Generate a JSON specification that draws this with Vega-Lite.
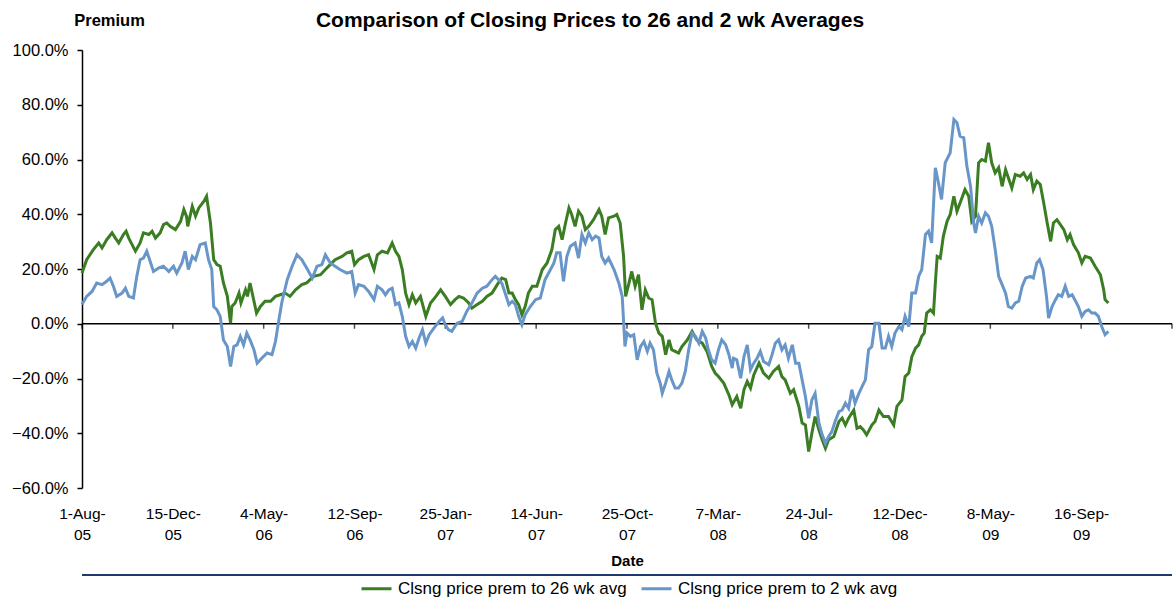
{
"$schema": "https://vega.github.io/schema/vega-lite/v6.json",
"width": 1090,
"height": 438,
"autosize": {"type": "none"},
"padding": {"left": 82, "top": 50, "right": 2, "bottom": 115},
"background": "white",
"config": {"view": {"stroke": null}, "font": "Liberation Sans", "axis": {"grid": false}},
"title": {"text": "Comparison of Closing Prices to 26 and 2 wk Averages", "font": "Liberation Sans", "fontSize": 21, "fontWeight": "bold", "color": "black", "anchor": "middle", "frame": "group", "dx": -37, "dy": 19, "offset": 0},
"datasets": {
"ticks": [{"date":"2005-08-01"},{"date":"2005-12-15"},{"date":"2006-05-04"},{"date":"2006-09-12"},{"date":"2007-01-25"},{"date":"2007-06-14"},{"date":"2007-10-25"},{"date":"2008-03-07"},{"date":"2008-07-24"},{"date":"2008-12-12"},{"date":"2009-05-08"},{"date":"2009-09-16"},{"date":"2010-01-31"}],
"wk26": [
{"date":"2005-08-01","premium":0.185},{"date":"2005-08-08","premium":0.234},{"date":"2005-08-18","premium":0.271},{"date":"2005-08-26","premium":0.295},{"date":"2005-08-31","premium":0.277},{"date":"2005-09-07","premium":0.307},{"date":"2005-09-15","premium":0.332},{"date":"2005-09-20","premium":0.313},{"date":"2005-09-25","premium":0.295},{"date":"2005-10-02","premium":0.326},{"date":"2005-10-06","premium":0.338},{"date":"2005-10-10","premium":0.313},{"date":"2005-10-15","premium":0.289},{"date":"2005-10-20","premium":0.265},{"date":"2005-10-27","premium":0.295},{"date":"2005-11-01","premium":0.332},{"date":"2005-11-09","premium":0.326},{"date":"2005-11-14","premium":0.338},{"date":"2005-11-19","premium":0.313},{"date":"2005-11-26","premium":0.332},{"date":"2005-12-01","premium":0.362},{"date":"2005-12-06","premium":0.368},{"date":"2005-12-11","premium":0.356},{"date":"2005-12-19","premium":0.344},{"date":"2005-12-27","premium":0.374},
{"date":"2006-01-01","premium":0.417},{"date":"2006-01-05","premium":0.393},{"date":"2006-01-07","premium":0.356},{"date":"2006-01-14","premium":0.429},{"date":"2006-01-19","premium":0.393},{"date":"2006-01-24","premium":0.423},{"date":"2006-02-01","premium":0.448},{"date":"2006-02-05","premium":0.466},{"date":"2006-02-08","premium":0.417},{"date":"2006-02-11","premium":0.368},{"date":"2006-02-16","premium":0.234},{"date":"2006-02-21","premium":0.216},{"date":"2006-02-26","premium":0.210},{"date":"2006-03-03","premium":0.149},{"date":"2006-03-09","premium":0.100},{"date":"2006-03-14","premium":0.002},{"date":"2006-03-16","premium":0.063},{"date":"2006-03-21","premium":0.076},{"date":"2006-03-27","premium":0.112},{"date":"2006-03-30","premium":0.076},{"date":"2006-04-06","premium":0.124},{"date":"2006-04-09","premium":0.100},{"date":"2006-04-13","premium":0.149},{"date":"2006-04-18","premium":0.094},{"date":"2006-04-23","premium":0.039},{"date":"2006-04-29","premium":0.063},
{"date":"2006-05-06","premium":0.082},{"date":"2006-05-14","premium":0.082},{"date":"2006-05-21","premium":0.100},{"date":"2006-05-28","premium":0.106},{"date":"2006-06-04","premium":0.112},{"date":"2006-06-11","premium":0.100},{"date":"2006-06-19","premium":0.124},{"date":"2006-06-28","premium":0.143},{"date":"2006-07-05","premium":0.149},{"date":"2006-07-15","premium":0.173},{"date":"2006-07-25","premium":0.179},{"date":"2006-08-01","premium":0.198},{"date":"2006-08-08","premium":0.216},{"date":"2006-08-15","premium":0.234},{"date":"2006-08-25","premium":0.246},{"date":"2006-09-01","premium":0.259},{"date":"2006-09-08","premium":0.265},{"date":"2006-09-12","premium":0.216},{"date":"2006-09-18","premium":0.234},{"date":"2006-09-26","premium":0.246},{"date":"2006-10-03","premium":0.252},{"date":"2006-10-11","premium":0.198},{"date":"2006-10-16","premium":0.252},{"date":"2006-10-23","premium":0.265},{"date":"2006-10-31","premium":0.259},{"date":"2006-11-07","premium":0.295},{"date":"2006-11-12","premium":0.265},{"date":"2006-11-17","premium":0.246},{"date":"2006-11-22","premium":0.198},{"date":"2006-11-27","premium":0.112},{"date":"2006-12-02","premium":0.070},{"date":"2006-12-07","premium":0.106},{"date":"2006-12-12","premium":0.076},{"date":"2006-12-19","premium":0.100},{"date":"2006-12-27","premium":0.027},
{"date":"2007-01-03","premium":0.076},{"date":"2007-01-11","premium":0.100},{"date":"2007-01-18","premium":0.124},{"date":"2007-01-25","premium":0.100},{"date":"2007-02-02","premium":0.070},{"date":"2007-02-09","premium":0.088},{"date":"2007-02-15","premium":0.100},{"date":"2007-02-22","premium":0.094},{"date":"2007-03-02","premium":0.076},{"date":"2007-03-07","premium":0.057},{"date":"2007-03-15","premium":0.070},{"date":"2007-03-23","premium":0.082},{"date":"2007-03-30","premium":0.100},{"date":"2007-04-07","premium":0.112},{"date":"2007-04-15","premium":0.143},{"date":"2007-04-22","premium":0.167},{"date":"2007-04-28","premium":0.161},{"date":"2007-05-03","premium":0.112},{"date":"2007-05-08","premium":0.112},{"date":"2007-05-13","premium":0.088},{"date":"2007-05-18","premium":0.070},{"date":"2007-05-23","premium":0.033},{"date":"2007-05-28","premium":0.063},{"date":"2007-06-02","premium":0.112},{"date":"2007-06-08","premium":0.137},{"date":"2007-06-15","premium":0.137},{"date":"2007-06-23","premium":0.198},{"date":"2007-06-30","premium":0.222},{"date":"2007-07-07","premium":0.271},{"date":"2007-07-12","premium":0.344},{"date":"2007-07-17","premium":0.356},{"date":"2007-07-22","premium":0.307},{"date":"2007-07-27","premium":0.368},{"date":"2007-08-01","premium":0.423},{"date":"2007-08-05","premium":0.399},{"date":"2007-08-10","premium":0.356},{"date":"2007-08-15","premium":0.411},{"date":"2007-08-20","premium":0.393},{"date":"2007-08-25","premium":0.344},{"date":"2007-08-30","premium":0.356},{"date":"2007-09-06","premium":0.380},{"date":"2007-09-14","premium":0.417},{"date":"2007-09-18","premium":0.393},{"date":"2007-09-23","premium":0.326},{"date":"2007-09-28","premium":0.387},{"date":"2007-10-06","premium":0.393},{"date":"2007-10-10","premium":0.399},{"date":"2007-10-15","premium":0.368},{"date":"2007-10-20","premium":0.246},{"date":"2007-10-23","premium":0.100},{"date":"2007-10-28","premium":0.149},{"date":"2007-11-01","premium":0.191},{"date":"2007-11-06","premium":0.137},{"date":"2007-11-11","premium":0.179},{"date":"2007-11-16","premium":0.051},{"date":"2007-11-21","premium":0.124},{"date":"2007-11-26","premium":0.094},{"date":"2007-12-01","premium":0.088},{"date":"2007-12-06","premium":0.002},{"date":"2007-12-11","premium":-0.034},{"date":"2007-12-16","premium":-0.046},{"date":"2007-12-21","premium":-0.113},{"date":"2007-12-26","premium":-0.059},{"date":"2007-12-30","premium":-0.095},
{"date":"2008-01-04","premium":-0.101},{"date":"2008-01-09","premium":-0.107},{"date":"2008-01-14","premium":-0.083},{"date":"2008-01-22","premium":-0.059},{"date":"2008-01-29","premium":-0.028},{"date":"2008-02-05","premium":-0.059},{"date":"2008-02-13","premium":-0.071},{"date":"2008-02-20","premium":-0.101},{"date":"2008-02-27","premium":-0.156},{"date":"2008-03-03","premium":-0.180},{"date":"2008-03-08","premium":-0.193},{"date":"2008-03-16","premium":-0.217},{"date":"2008-03-24","premium":-0.260},{"date":"2008-03-29","premium":-0.296},{"date":"2008-04-05","premium":-0.266},{"date":"2008-04-11","premium":-0.309},{"date":"2008-04-16","premium":-0.241},{"date":"2008-04-21","premium":-0.211},{"date":"2008-04-26","premium":-0.235},{"date":"2008-05-01","premium":-0.187},{"date":"2008-05-09","premium":-0.144},{"date":"2008-05-16","premium":-0.180},{"date":"2008-05-24","premium":-0.199},{"date":"2008-05-31","premium":-0.174},{"date":"2008-06-08","premium":-0.156},{"date":"2008-06-13","premium":-0.193},{"date":"2008-06-18","premium":-0.205},{"date":"2008-06-26","premium":-0.254},{"date":"2008-07-01","premium":-0.241},{"date":"2008-07-09","premium":-0.302},{"date":"2008-07-14","premium":-0.363},{"date":"2008-07-19","premium":-0.370},{"date":"2008-07-24","premium":-0.467},{"date":"2008-07-29","premium":-0.400},{"date":"2008-08-03","premium":-0.339},{"date":"2008-08-09","premium":-0.388},{"date":"2008-08-14","premium":-0.424},{"date":"2008-08-19","premium":-0.455},{"date":"2008-08-24","premium":-0.424},{"date":"2008-09-01","premium":-0.412},{"date":"2008-09-09","premium":-0.357},{"date":"2008-09-14","premium":-0.345},{"date":"2008-09-19","premium":-0.370},{"date":"2008-09-24","premium":-0.345},{"date":"2008-10-02","premium":-0.315},{"date":"2008-10-07","premium":-0.382},{"date":"2008-10-12","premium":-0.376},{"date":"2008-10-17","premium":-0.388},{"date":"2008-10-22","premium":-0.406},{"date":"2008-10-30","premium":-0.370},{"date":"2008-11-04","premium":-0.357},{"date":"2008-11-10","premium":-0.315},{"date":"2008-11-17","premium":-0.339},{"date":"2008-11-25","premium":-0.339},{"date":"2008-12-03","premium":-0.370},{"date":"2008-12-08","premium":-0.302},{"date":"2008-12-16","premium":-0.278},{"date":"2008-12-21","premium":-0.193},{"date":"2008-12-27","premium":-0.180},
{"date":"2009-01-01","premium":-0.120},{"date":"2009-01-07","premium":-0.089},{"date":"2009-01-12","premium":-0.077},{"date":"2009-01-17","premium":-0.046},{"date":"2009-01-21","premium":-0.034},{"date":"2009-01-25","premium":0.039},{"date":"2009-01-31","premium":0.051},{"date":"2009-02-05","premium":0.039},{"date":"2009-02-08","premium":0.149},{"date":"2009-02-11","premium":0.246},{"date":"2009-02-16","premium":0.240},{"date":"2009-02-21","premium":0.320},{"date":"2009-02-27","premium":0.374},{"date":"2009-03-04","premium":0.399},{"date":"2009-03-10","premium":0.466},{"date":"2009-03-15","premium":0.411},{"date":"2009-03-20","premium":0.441},{"date":"2009-03-28","premium":0.490},{"date":"2009-04-03","premium":0.466},{"date":"2009-04-08","premium":0.374},{"date":"2009-04-14","premium":0.393},{"date":"2009-04-19","premium":0.588},{"date":"2009-04-24","premium":0.600},{"date":"2009-04-30","premium":0.594},{"date":"2009-05-05","premium":0.661},{"date":"2009-05-10","premium":0.588},{"date":"2009-05-15","premium":0.551},{"date":"2009-05-20","premium":0.570},{"date":"2009-05-25","premium":0.502},{"date":"2009-05-30","premium":0.563},{"date":"2009-06-03","premium":0.533},{"date":"2009-06-08","premium":0.496},{"date":"2009-06-13","premium":0.545},{"date":"2009-06-20","premium":0.539},{"date":"2009-06-25","premium":0.551},{"date":"2009-06-30","premium":0.527},{"date":"2009-07-05","premium":0.545},{"date":"2009-07-09","premium":0.490},{"date":"2009-07-14","premium":0.521},{"date":"2009-07-19","premium":0.509},{"date":"2009-07-24","premium":0.441},{"date":"2009-07-29","premium":0.368},{"date":"2009-08-03","premium":0.301},{"date":"2009-08-07","premium":0.368},{"date":"2009-08-12","premium":0.380},{"date":"2009-08-17","premium":0.362},{"date":"2009-08-22","premium":0.344},{"date":"2009-08-27","premium":0.307},{"date":"2009-08-31","premium":0.326},{"date":"2009-09-05","premium":0.289},{"date":"2009-09-12","premium":0.259},{"date":"2009-09-17","premium":0.222},{"date":"2009-09-22","premium":0.246},{"date":"2009-09-30","premium":0.240},{"date":"2009-10-07","premium":0.210},{"date":"2009-10-15","premium":0.179},{"date":"2009-10-20","premium":0.124},{"date":"2009-10-22","premium":0.088},{"date":"2009-10-27","premium":0.076}
],
"wk2": [
{"date":"2005-08-01","premium":0.070},{"date":"2005-08-08","premium":0.100},{"date":"2005-08-16","premium":0.118},{"date":"2005-08-23","premium":0.149},{"date":"2005-08-31","premium":0.143},{"date":"2005-09-07","premium":0.155},{"date":"2005-09-12","premium":0.167},{"date":"2005-09-17","premium":0.137},{"date":"2005-09-22","premium":0.100},{"date":"2005-09-30","premium":0.112},{"date":"2005-10-05","premium":0.130},{"date":"2005-10-10","premium":0.100},{"date":"2005-10-17","premium":0.094},{"date":"2005-10-22","premium":0.173},{"date":"2005-10-27","premium":0.234},{"date":"2005-11-01","premium":0.240},{"date":"2005-11-06","premium":0.265},{"date":"2005-11-11","premium":0.228},{"date":"2005-11-16","premium":0.191},{"date":"2005-11-24","premium":0.204},{"date":"2005-12-01","premium":0.210},{"date":"2005-12-09","premium":0.191},{"date":"2005-12-16","premium":0.210},{"date":"2005-12-21","premium":0.185},{"date":"2005-12-29","premium":0.222},
{"date":"2006-01-03","premium":0.265},{"date":"2006-01-08","premium":0.198},{"date":"2006-01-14","premium":0.246},{"date":"2006-01-19","premium":0.234},{"date":"2006-01-26","premium":0.289},{"date":"2006-02-03","premium":0.295},{"date":"2006-02-08","premium":0.234},{"date":"2006-02-13","premium":0.198},{"date":"2006-02-16","premium":0.063},{"date":"2006-02-21","premium":0.051},{"date":"2006-02-26","premium":0.027},{"date":"2006-03-03","premium":-0.059},{"date":"2006-03-09","premium":-0.083},{"date":"2006-03-14","premium":-0.156},{"date":"2006-03-19","premium":-0.083},{"date":"2006-03-24","premium":-0.077},{"date":"2006-03-29","premium":-0.046},{"date":"2006-04-03","premium":-0.077},{"date":"2006-04-08","premium":-0.034},{"date":"2006-04-13","premium":-0.059},{"date":"2006-04-19","premium":-0.095},{"date":"2006-04-24","premium":-0.144},{"date":"2006-05-01","premium":-0.126},{"date":"2006-05-09","premium":-0.107},{"date":"2006-05-16","premium":-0.113},{"date":"2006-05-21","premium":-0.065},{"date":"2006-05-26","premium":0.015},{"date":"2006-05-30","premium":0.076},{"date":"2006-06-07","premium":0.161},{"date":"2006-06-14","premium":0.210},{"date":"2006-06-21","premium":0.252},{"date":"2006-06-28","premium":0.234},{"date":"2006-07-05","premium":0.204},{"date":"2006-07-13","premium":0.167},{"date":"2006-07-20","premium":0.210},{"date":"2006-07-27","premium":0.216},{"date":"2006-08-01","premium":0.252},{"date":"2006-08-08","premium":0.222},{"date":"2006-08-15","premium":0.210},{"date":"2006-08-22","premium":0.198},{"date":"2006-09-01","premium":0.185},{"date":"2006-09-08","premium":0.191},{"date":"2006-09-13","premium":0.112},{"date":"2006-09-18","premium":0.143},{"date":"2006-09-26","premium":0.137},{"date":"2006-10-03","premium":0.118},{"date":"2006-10-11","premium":0.088},{"date":"2006-10-16","premium":0.137},{"date":"2006-10-23","premium":0.124},{"date":"2006-10-28","premium":0.106},{"date":"2006-11-02","premium":0.124},{"date":"2006-11-07","premium":0.130},{"date":"2006-11-12","premium":0.070},{"date":"2006-11-17","premium":0.076},{"date":"2006-11-22","premium":0.027},{"date":"2006-11-27","premium":-0.046},{"date":"2006-12-02","premium":-0.083},{"date":"2006-12-07","premium":-0.065},{"date":"2006-12-12","premium":-0.089},{"date":"2006-12-17","premium":-0.052},{"date":"2006-12-22","premium":-0.022},{"date":"2006-12-27","premium":-0.071},
{"date":"2007-01-01","premium":-0.040},{"date":"2007-01-08","premium":-0.016},{"date":"2007-01-16","premium":0.009},{"date":"2007-01-21","premium":0.021},{"date":"2007-01-25","premium":-0.004},{"date":"2007-01-30","premium":-0.022},{"date":"2007-02-04","premium":-0.028},{"date":"2007-02-12","premium":0.002},{"date":"2007-02-20","premium":0.009},{"date":"2007-02-27","premium":0.045},{"date":"2007-03-07","premium":0.076},{"date":"2007-03-15","premium":0.112},{"date":"2007-03-23","premium":0.130},{"date":"2007-03-30","premium":0.137},{"date":"2007-04-07","premium":0.161},{"date":"2007-04-12","premium":0.173},{"date":"2007-04-17","premium":0.161},{"date":"2007-04-22","premium":0.149},{"date":"2007-04-28","premium":0.106},{"date":"2007-05-03","premium":0.070},{"date":"2007-05-08","premium":0.082},{"date":"2007-05-13","premium":0.070},{"date":"2007-05-18","premium":0.027},{"date":"2007-05-23","premium":-0.004},{"date":"2007-05-28","premium":0.033},{"date":"2007-06-05","premium":0.063},{"date":"2007-06-13","premium":0.088},{"date":"2007-06-20","premium":0.094},{"date":"2007-06-27","premium":0.161},{"date":"2007-07-05","premium":0.198},{"date":"2007-07-10","premium":0.222},{"date":"2007-07-14","premium":0.259},{"date":"2007-07-19","premium":0.259},{"date":"2007-07-24","premium":0.155},{"date":"2007-07-29","premium":0.246},{"date":"2007-08-03","premium":0.283},{"date":"2007-08-10","premium":0.295},{"date":"2007-08-15","premium":0.240},{"date":"2007-08-20","premium":0.326},{"date":"2007-08-25","premium":0.295},{"date":"2007-08-30","premium":0.332},{"date":"2007-09-04","premium":0.307},{"date":"2007-09-09","premium":0.320},{"date":"2007-09-14","premium":0.313},{"date":"2007-09-18","premium":0.246},{"date":"2007-09-23","premium":0.222},{"date":"2007-09-28","premium":0.240},{"date":"2007-10-06","premium":0.198},{"date":"2007-10-13","premium":0.149},{"date":"2007-10-18","premium":0.100},{"date":"2007-10-22","premium":-0.083},{"date":"2007-10-25","premium":-0.034},{"date":"2007-10-30","premium":-0.046},{"date":"2007-11-04","premium":-0.040},{"date":"2007-11-09","premium":-0.132},{"date":"2007-11-14","premium":-0.083},{"date":"2007-11-19","premium":-0.065},{"date":"2007-11-24","premium":-0.101},{"date":"2007-11-28","premium":-0.071},{"date":"2007-12-03","premium":-0.095},{"date":"2007-12-08","premium":-0.180},{"date":"2007-12-13","premium":-0.217},{"date":"2007-12-16","premium":-0.254},{"date":"2007-12-21","premium":-0.217},{"date":"2007-12-26","premium":-0.174},{"date":"2007-12-30","premium":-0.205},
{"date":"2008-01-04","premium":-0.235},{"date":"2008-01-09","premium":-0.235},{"date":"2008-01-14","premium":-0.217},{"date":"2008-01-19","premium":-0.174},{"date":"2008-01-24","premium":-0.095},{"date":"2008-01-29","premium":-0.034},{"date":"2008-02-03","premium":-0.046},{"date":"2008-02-08","premium":-0.071},{"date":"2008-02-13","premium":-0.028},{"date":"2008-02-18","premium":-0.052},{"date":"2008-02-22","premium":-0.095},{"date":"2008-02-27","premium":-0.132},{"date":"2008-03-03","premium":-0.144},{"date":"2008-03-08","premium":-0.095},{"date":"2008-03-13","premium":-0.059},{"date":"2008-03-19","premium":-0.077},{"date":"2008-03-24","premium":-0.113},{"date":"2008-03-29","premium":-0.162},{"date":"2008-03-31","premium":-0.126},{"date":"2008-04-05","premium":-0.132},{"date":"2008-04-11","premium":-0.199},{"date":"2008-04-16","premium":-0.120},{"date":"2008-04-21","premium":-0.077},{"date":"2008-04-26","premium":-0.168},{"date":"2008-05-01","premium":-0.144},{"date":"2008-05-06","premium":-0.126},{"date":"2008-05-11","premium":-0.101},{"date":"2008-05-16","premium":-0.138},{"date":"2008-05-24","premium":-0.150},{"date":"2008-05-29","premium":-0.113},{"date":"2008-06-03","premium":-0.071},{"date":"2008-06-08","premium":-0.059},{"date":"2008-06-13","premium":-0.095},{"date":"2008-06-18","premium":-0.077},{"date":"2008-06-23","premium":-0.126},{"date":"2008-06-29","premium":-0.077},{"date":"2008-07-04","premium":-0.144},{"date":"2008-07-09","premium":-0.144},{"date":"2008-07-14","premium":-0.205},{"date":"2008-07-19","premium":-0.266},{"date":"2008-07-24","premium":-0.345},{"date":"2008-07-29","premium":-0.278},{"date":"2008-08-03","premium":-0.254},{"date":"2008-08-09","premium":-0.363},{"date":"2008-08-14","premium":-0.406},{"date":"2008-08-19","premium":-0.437},{"date":"2008-08-24","premium":-0.412},{"date":"2008-08-29","premium":-0.394},{"date":"2008-09-03","premium":-0.357},{"date":"2008-09-09","premium":-0.321},{"date":"2008-09-14","premium":-0.315},{"date":"2008-09-19","premium":-0.290},{"date":"2008-09-24","premium":-0.309},{"date":"2008-09-29","premium":-0.241},{"date":"2008-10-04","premium":-0.290},{"date":"2008-10-10","premium":-0.254},{"date":"2008-10-15","premium":-0.229},{"date":"2008-10-20","premium":-0.205},{"date":"2008-10-25","premium":-0.095},{"date":"2008-10-30","premium":-0.083},{"date":"2008-11-04","premium":0.002},{"date":"2008-11-10","premium":0.002},{"date":"2008-11-15","premium":-0.089},{"date":"2008-11-20","premium":-0.089},{"date":"2008-11-25","premium":-0.046},{"date":"2008-11-30","premium":-0.083},{"date":"2008-12-05","premium":-0.034},{"date":"2008-12-11","premium":-0.010},{"date":"2008-12-16","premium":-0.022},{"date":"2008-12-21","premium":0.027},{"date":"2008-12-27","premium":-0.010},
{"date":"2009-01-01","premium":0.112},{"date":"2009-01-07","premium":0.112},{"date":"2009-01-12","premium":0.173},{"date":"2009-01-17","premium":0.198},{"date":"2009-01-23","premium":0.326},{"date":"2009-01-28","premium":0.338},{"date":"2009-02-02","premium":0.295},{"date":"2009-02-08","premium":0.570},{"date":"2009-02-13","premium":0.515},{"date":"2009-02-18","premium":0.454},{"date":"2009-02-24","premium":0.588},{"date":"2009-03-04","premium":0.624},{"date":"2009-03-10","premium":0.746},{"date":"2009-03-15","premium":0.734},{"date":"2009-03-20","premium":0.685},{"date":"2009-03-26","premium":0.679},{"date":"2009-03-31","premium":0.576},{"date":"2009-04-06","premium":0.502},{"date":"2009-04-11","premium":0.368},{"date":"2009-04-14","premium":0.332},{"date":"2009-04-19","premium":0.393},{"date":"2009-04-24","premium":0.368},{"date":"2009-04-30","premium":0.405},{"date":"2009-05-05","premium":0.393},{"date":"2009-05-10","premium":0.356},{"date":"2009-05-15","premium":0.271},{"date":"2009-05-20","premium":0.173},{"date":"2009-05-25","premium":0.143},{"date":"2009-05-30","premium":0.112},{"date":"2009-06-03","premium":0.063},{"date":"2009-06-08","premium":0.057},{"date":"2009-06-13","premium":0.076},{"date":"2009-06-18","premium":0.082},{"date":"2009-06-23","premium":0.137},{"date":"2009-06-28","premium":0.167},{"date":"2009-07-05","premium":0.173},{"date":"2009-07-09","premium":0.167},{"date":"2009-07-14","premium":0.222},{"date":"2009-07-18","premium":0.234},{"date":"2009-07-23","premium":0.198},{"date":"2009-07-28","premium":0.100},{"date":"2009-07-31","premium":0.021},{"date":"2009-08-05","premium":0.063},{"date":"2009-08-10","premium":0.088},{"date":"2009-08-14","premium":0.106},{"date":"2009-08-19","premium":0.100},{"date":"2009-08-24","premium":0.137},{"date":"2009-08-29","premium":0.100},{"date":"2009-09-03","premium":0.106},{"date":"2009-09-08","premium":0.082},{"date":"2009-09-12","premium":0.063},{"date":"2009-09-17","premium":0.027},{"date":"2009-09-22","premium":0.045},{"date":"2009-09-27","premium":0.051},{"date":"2009-10-02","premium":0.039},{"date":"2009-10-07","premium":0.039},{"date":"2009-10-12","premium":0.027},{"date":"2009-10-17","premium":-0.010},{"date":"2009-10-22","premium":-0.040},{"date":"2009-10-27","premium":-0.028}
]
},
"layer": [
{
"data": {"values": [{}]},
"mark": {"type": "rule", "color": "black", "strokeWidth": 1.5},
"encoding": {"y": {"datum": 0, "type": "quantitative"}}
},
{
"data": {"name": "ticks"},
"mark": {"type": "tick", "orient": "vertical", "size": 5, "thickness": 1.5, "color": "black", "yOffset": 2.5},
"encoding": {"x": {"field": "date", "type": "temporal"}, "y": {"datum": 0, "type": "quantitative"}}
},
{
"data": {"name": "wk26"},
"mark": {"type": "line", "strokeWidth": 3},
"encoding": {
"x": {"field": "date", "type": "temporal",
"scale": {"type": "utc", "nice": false,
"domainRaw": {"expr": "[1122854400000, 1134604800000, 1146700800000, 1158019200000, 1169683200000, 1181779200000, 1193270400000, 1204848000000, 1216857600000, 1229040000000, 1241740800000, 1253059200000, 1264896000000]"},
"range": [0, 90.833, 181.667, 272.5, 363.333, 454.167, 545, 635.833, 726.667, 817.5, 908.333, 999.167, 1090]},
"axis": {"orient": "bottom",
"values": [{"year":2005,"month":8,"date":1,"utc":true},{"year":2005,"month":12,"date":15,"utc":true},{"year":2006,"month":5,"date":4,"utc":true},{"year":2006,"month":9,"date":12,"utc":true},{"year":2007,"month":1,"date":25,"utc":true},{"year":2007,"month":6,"date":14,"utc":true},{"year":2007,"month":10,"date":25,"utc":true},{"year":2008,"month":3,"date":7,"utc":true},{"year":2008,"month":7,"date":24,"utc":true},{"year":2008,"month":12,"date":12,"utc":true},{"year":2009,"month":5,"date":8,"utc":true},{"year":2009,"month":9,"date":16,"utc":true}],
"domain": false, "ticks": false, "tickSize": 0, "grid": false,
"labelExpr": "[utcFormat(datum.value, '%-d-%b-'), utcFormat(datum.value, '%y')]",
"labelFont": "Liberation Sans", "labelFontSize": 15.5, "labelColor": "black", "labelPadding": 18, "labelLineHeight": 21, "labelBaseline": "top", "labelAlign": "center", "labelFlush": false, "labelOverlap": false, "labelBound": false,
"title": "Date", "titleFont": "Liberation Sans", "titleFontSize": 15, "titleFontWeight": "bold", "titleColor": "black", "titleX": 545, "titleY": 72, "titleAlign": "center", "titleBaseline": "middle"}},
"y": {"field": "premium", "type": "quantitative",
"scale": {"domain": [-0.6, 1.0], "nice": false, "zero": false},
"axis": {"values": [-0.6, -0.4, -0.2, 0, 0.2, 0.4, 0.6, 0.8, 1.0], "format": ".1%", "grid": false,
"domain": true, "domainColor": "black", "domainWidth": 1.5, "ticks": true, "tickSize": 5, "tickWidth": 1.5, "tickColor": "black",
"labelFont": "Liberation Sans", "labelFontSize": 16.5, "labelColor": "black", "labelPadding": 9,
"title": "Premium", "titleFont": "Liberation Sans", "titleFontSize": 16.5, "titleFontWeight": "bold", "titleColor": "black", "titleAngle": 0, "titleX": 27, "titleY": -30, "titleAlign": "center", "titleBaseline": "middle"}},
"color": {"datum": "Clsng price prem to 26 wk avg", "type": "nominal",
"scale": {"domain": ["Clsng price prem to 26 wk avg", "Clsng price prem to 2 wk avg"], "range": ["#3b7d23", "#6896c8"]},
"legend": {"orient": "none", "legendX": 278, "legendY": 522, "direction": "horizontal", "title": null, "symbolType": "stroke", "symbolSize": 900, "symbolStrokeWidth": 3, "labelFont": "Liberation Sans", "labelFontSize": 17, "labelColor": "black", "labelLimit": 0, "columnPadding": 8, "labelOffset": 5}}
}
},
{
"data": {"name": "wk2"},
"mark": {"type": "line", "strokeWidth": 3},
"encoding": {
"x": {"field": "date", "type": "temporal"},
"y": {"field": "premium", "type": "quantitative"},
"color": {"datum": "Clsng price prem to 2 wk avg", "type": "nominal"}
}
},
{
"data": {"values": [{}]},
"mark": {"type": "rule", "color": "#1f3a6e", "strokeWidth": 2, "clip": false},
"encoding": {"y": {"datum": -0.918, "type": "quantitative"}}
}
]
}
